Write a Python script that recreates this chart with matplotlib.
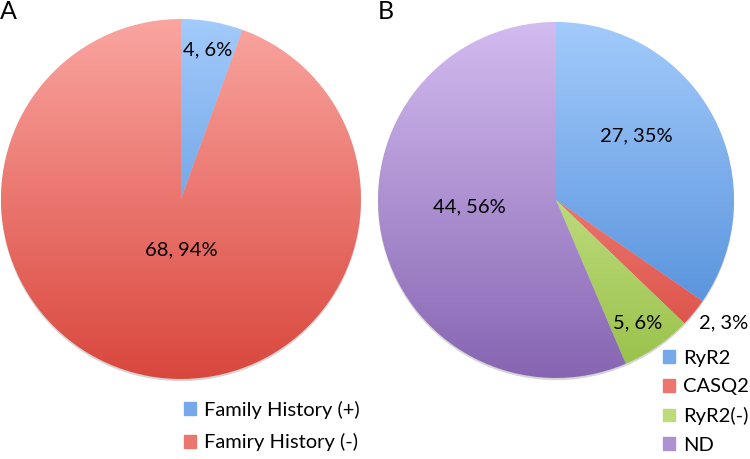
import numpy as np
import matplotlib.pyplot as plt
from matplotlib.colors import LinearSegmentedColormap
from matplotlib.patches import Patch, Circle

plt.rcParams['font.family'] = ['Lato', 'DejaVu Sans']

labelsA = ['Family History (+)', 'Famiry History (-)']
countsA = [4, 68]
labelsB = ['RyR2', 'CASQ2', 'RyR2(-)', 'ND']
countsB = [27, 2, 5, 44]

# gradient colours, top -> bottom
blue = ('#a3cbfb', '#4786d6')
red = ('#faa5a0', '#d9473d')
green = ('#e0f5ad', '#98c048')
purple = ('#d3bcf0', '#8765b2')


def gradPie(ax, counts, cols, dists, nudges):
    # soft shadow under the pie
    ax.add_patch(Circle((0, -0.012), 1.0, fc='#c4c4c4', ec='none', alpha=0.7,
                        zorder=0, clip_on=False))
    wedges, _ = ax.pie(counts, startangle=90, counterclock=False, radius=1,
                       wedgeprops=dict(fc='none', ec='none'))
    grad = np.linspace(0, 1, 256).reshape(-1, 1)
    for w, c in zip(wedges, cols):
        cmap = LinearSegmentedColormap.from_list('g', list(c))
        im = ax.imshow(grad, cmap=cmap, extent=(-1, 1, -1, 1), origin='upper',
                       aspect='auto', zorder=1)
        im.set_clip_path(w)
    total = sum(counts)
    for w, n, d, nu in zip(wedges, counts, dists, nudges):
        ang = np.deg2rad((w.theta1 + w.theta2) / 2 + nu)
        ax.text(d * np.cos(ang), d * np.sin(ang), f'{n}, {round(100 * n / total)}%',
                ha='center', va='center', fontsize=14.5, zorder=3)
    ax.set_xlim(-1, 1)
    ax.set_ylim(-1, 1)
    ax.axis('off')
    return wedges


fig = plt.figure(figsize=(7.5, 4.59), dpi=100)

axA = fig.add_axes([0.0013, 0.1743, 0.48, 0.7843])
gradPie(axA, countsA, [blue, red], [0.84, 0.28], [0, 10])
axB = fig.add_axes([0.504, 0.1765, 0.4747, 0.7756])
gradPie(axB, countsB, [blue, red, green, purple], [0.58, 1.17, 0.83, 0.49], [11, 3, -1, -7])

fig.text(0.0, 1.0, 'A', fontsize=18, ha='left', va='top')
fig.text(0.503, 1.0, 'B', fontsize=18, ha='left', va='top')

def mid(c):
    a = np.array([int(c[0][i:i + 2], 16) for i in (1, 3, 5)])
    b = np.array([int(c[1][i:i + 2], 16) for i in (1, 3, 5)])
    return tuple((a + b) / 2 / 255)

hA = [Patch(color=mid(c)) for c in [blue, red]]
fig.legend(hA, labelsA, loc='upper left', bbox_to_anchor=(0.245, 0.127), frameon=False,
           fontsize=14.5, handlelength=0.6, handleheight=0.6, handletextpad=0.4,
           labelspacing=0.72, borderaxespad=0, borderpad=0)
hB = [Patch(color=mid(c)) for c in [blue, red, green, purple]]
fig.legend(hB, labelsB, loc='upper left', bbox_to_anchor=(0.884, 0.238), frameon=False,
           fontsize=14.5, handlelength=0.6, handleheight=0.6, handletextpad=0.4,
           labelspacing=0.58, borderaxespad=0, borderpad=0)

plt.savefig('out.png', dpi=100)
